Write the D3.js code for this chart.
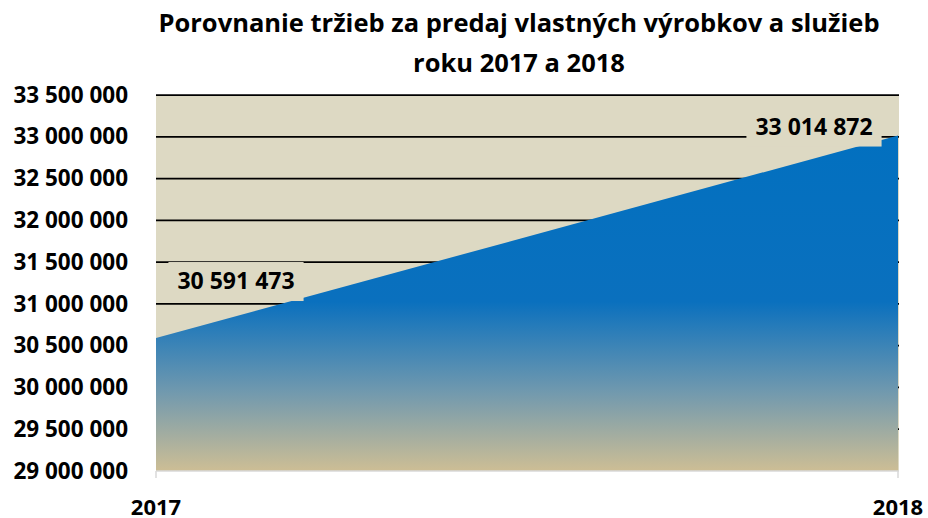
<!DOCTYPE html>
<html>
<head>
<meta charset="utf-8">
<script src="https://cdn.jsdelivr.net/npm/d3@7"></script>
<style>
  body { margin: 0; background: #fff; }
  text { font-family: "Open Sans", sans-serif; font-weight: bold; fill: #000; }
</style>
</head>
<body>
<div id="chart"></div>
<script>
// údaje
const years = ["2017", "2018"];
const revenues = [30591473, 33014872];
const yTickValues = [29000000, 29500000, 30000000, 30500000, 31000000, 31500000,
                     32000000, 32500000, 33000000, 33500000];
const titleLines = ["Porovnanie tržieb za predaj vlastných výrobkov a služieb", "roku 2017 a 2018"];

const width = 928, height = 518;
const margin = { top: 95, right: 30, bottom: 47, left: 156 };
const plotW = width - margin.left - margin.right;
const plotH = height - margin.top - margin.bottom;

const data = years.map((y, i) => ({ year: y, value: revenues[i] }));

const svg = d3.select("#chart").append("svg")
  .attr("width", width)
  .attr("height", height);

const x = d3.scalePoint().domain(years).range([0, plotW]);
const y = d3.scaleLinear().domain([29000000, 33500000]).range([plotH, 0]);

const fmt = v => d3.format(",")(v).replace(/,/g, " ");

// Nadpis
svg.selectAll(".title")
  .data(titleLines)
  .enter().append("text")
  .attr("x", 519)
  .attr("y", (d, i) => 32 + i * 40)
  .attr("text-anchor", "middle")
  .style("font-size", "25.5px")
  .text(d => d);

const g = svg.append("g")
  .attr("transform", `translate(${margin.left},${margin.top})`);

// pozadie
g.append("rect")
  .attr("width", plotW + 1)
  .attr("height", plotH)
  .attr("fill", "#ddd9c3");

// mriežka
g.selectAll(".grid")
  .data(yTickValues.slice(1))
  .enter().append("line")
  .attr("x1", 0).attr("x2", plotW + 1)
  .attr("y1", d => y(d)).attr("y2", d => y(d))
  .attr("stroke", "#000")
  .attr("stroke-width", 1.75);

// gradient
const grad = svg.append("defs").append("linearGradient")
  .attr("id", "areaGrad")
  .attr("gradientUnits", "userSpaceOnUse")
  .attr("x1", 0).attr("x2", 0)
  .attr("y1", y(33500000)).attr("y2", y(29000000));
grad.append("stop").attr("offset", "0%").attr("stop-color", "#0070c0");
grad.append("stop").attr("offset", "55%").attr("stop-color", "#0a70be");
grad.append("stop").attr("offset", "79%").attr("stop-color", "#7199ae");
grad.append("stop").attr("offset", "100%").attr("stop-color", "#cdbe95");

const area = d3.area()
  .x(d => x(d.year))
  .y0(plotH)
  .y1(d => y(d.value));

g.append("path")
  .datum(data)
  .attr("d", area)
  .attr("fill", "url(#areaGrad)");

// os x
g.append("line")
  .attr("x1", 0).attr("x2", plotW + 1)
  .attr("y1", plotH).attr("y2", plotH)
  .attr("stroke", "#d9d9d9")
  .attr("stroke-width", 1.5);
g.selectAll(".xtick")
  .data(years)
  .enter().append("line")
  .attr("x1", d => x(d)).attr("x2", d => x(d))
  .attr("y1", plotH).attr("y2", plotH + 7)
  .attr("stroke", "#d9d9d9")
  .attr("stroke-width", 1.5);

g.selectAll(".xlabel")
  .data(years)
  .enter().append("text")
  .attr("x", d => x(d))
  .attr("y", plotH + 44)
  .attr("text-anchor", "middle")
  .style("font-size", "22px")
  .text(d => d);

// os y
const yAxis = g.append("g")
  .call(d3.axisLeft(y).tickValues(yTickValues).tickSize(0).tickPadding(28).tickFormat(fmt));
yAxis.select(".domain").remove();
yAxis.selectAll("text")
  .style("font-family", "'Open Sans', sans-serif")
  .style("font-weight", "bold")
  .style("font-size", "22.5px")
  .attr("fill", "#000");

// popisky hodnôt
const labelPos = [
  { dx: 80, dy: -49 },
  { dx: -84, dy: -1 }
];
data.forEach((d, i) => {
  const lx = x(d.year) + labelPos[i].dx;
  const ly = y(d.value) + labelPos[i].dy;
  const lg = g.append("g");
  const box = lg.append("rect").attr("fill", "#ddd9c3");
  const t = lg.append("text")
    .attr("x", lx)
    .attr("y", ly)
    .attr("text-anchor", "middle")
    .style("font-size", "23px")
    .text(fmt(d.value));
  const w = t.node().getComputedTextLength();
  box.attr("x", lx - w / 2 - 9)
    .attr("y", ly - 27)
    .attr("width", w + 18)
    .attr("height", 39);
});
</script>
</body>
</html>
